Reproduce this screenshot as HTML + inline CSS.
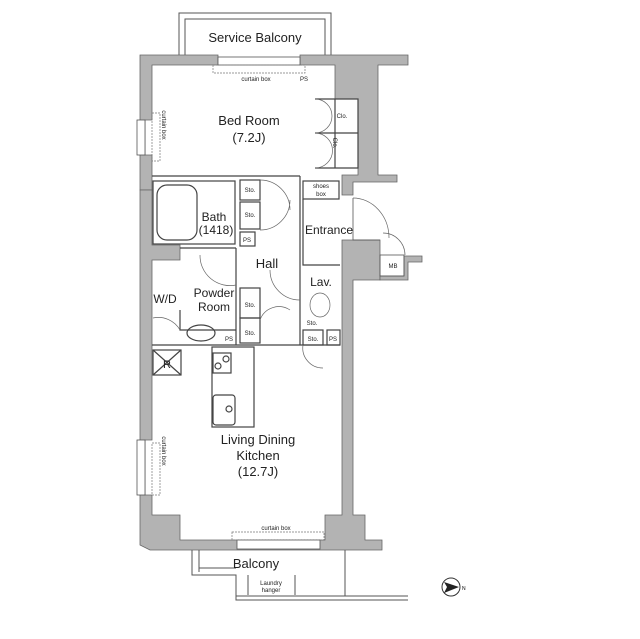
<!DOCTYPE html>
<html><head><meta charset="utf-8"><style>
html,body{margin:0;padding:0;background:#fff;}
svg{display:block;font-family:"Liberation Sans",sans-serif;}
</style></head><body>
<svg width="640" height="639" viewBox="0 0 640 639" xmlns="http://www.w3.org/2000/svg">
<g fill="none" stroke="#555" stroke-width="1">
<path d="M179 55 V13 H331 V55"/>
<path d="M185 55 V19 H325 V55"/>
</g>
<g fill="#b3b3b3" stroke="#666" stroke-width="0.8">
<path d="M140 55 H218 V65 H152 V120 H145 V155 H152 V190 H140 Z"/>
<path d="M300 55 H408 V65 H378 V175 H397 V182 H353 V195 H342 V175 H358 V99 H335 V65 H300 Z"/>
<path d="M140 190 H152 V245 H180 V260 H152 V440 H145 V495 H152 V515 H180 V540 H325 V515 H342 V240 H380 V280 H353 V515 H365 V540 H382 V550 H150 L140 545 Z"/>
<path d="M380 280 H408 V262 H422 V256 H404 V276 H380 Z"/>
</g>
<g fill="none" stroke="#555" stroke-width="0.8">
<rect x="380" y="255" width="24" height="21"/>
<path d="M353 198 V240 H380"/>
</g>
<g fill="#fff" stroke="#555" stroke-width="0.8">
<rect x="218" y="57" width="82" height="8"/>
<rect x="137" y="120" width="8" height="35"/>
<rect x="137" y="440" width="8" height="55"/>
<rect x="237" y="540" width="83" height="9"/>
</g>
<g fill="none" stroke="#777" stroke-width="0.7" stroke-dasharray="2 1">
<rect x="213" y="65" width="92" height="8"/>
<rect x="152" y="113" width="8" height="48"/>
<rect x="152" y="443" width="8" height="52"/>
<rect x="232" y="532" width="92" height="8"/>
</g>
<g fill="none" stroke="#444" stroke-width="1.2">
<path d="M152 176 H300"/>
<path d="M315 99 H358 V168 H315"/>
<path d="M335 99 V168 M315 133 H358"/>
<rect x="153" y="181" width="82" height="63"/>
<rect x="157" y="185" width="40" height="55" rx="10"/>
<rect x="240" y="180" width="20" height="20"/>
<rect x="240" y="202" width="20" height="27"/>
<rect x="240" y="232" width="15" height="14"/>
<rect x="303" y="181" width="36" height="18"/>
<path d="M300 176 V345 M303 199 V265 H340"/>
<path d="M236 248 V345 M180 248 H236"/>
<rect x="240" y="288" width="20" height="30"/>
<rect x="240" y="318" width="20" height="25"/>
<rect x="303" y="330" width="20" height="15"/>
<rect x="327" y="330" width="13" height="15"/>
<path d="M152 345 H340"/>
<rect x="212" y="347" width="42" height="80"/>
<rect x="153" y="350" width="28" height="25"/>
<path d="M153 350 L181 375 M181 350 L153 375"/>
<rect x="213" y="395" width="22" height="30" rx="3"/>
<rect x="213" y="353" width="18" height="20"/>
<circle cx="218" cy="366" r="3"/><circle cx="226" cy="359" r="3"/>
<circle cx="229" cy="409" r="3"/>
<ellipse cx="201" cy="333" rx="14" ry="8"/>
<path d="M180 310 V330 H236"/>
</g>
<g fill="none" stroke="#666" stroke-width="0.7">
<path d="M315 99 A17 17 0 0 1 315 133 M315 133 A17 17 0 0 1 315 168"/>
<path d="M260 180 A30 30 0 0 1 290 210 M260 230 A30 30 0 0 0 290 200"/>
<path d="M353 198 A36 40 0 0 1 389 238"/>
<path d="M383 233 A22 22 0 0 1 405 255"/>
<path d="M200 255 A30 30 0 0 0 236 285"/>
<path d="M270 270 A30 30 0 0 0 300 300"/>
<path d="M260 320 A20 20 0 0 1 290 310"/>
<path d="M303 345 A20 20 0 0 0 323 368"/>
<path d="M153 318 A25 25 0 0 1 180 330"/>
<ellipse cx="320" cy="305" rx="10" ry="12"/>
</g>
<g fill="none" stroke="#555" stroke-width="1">
<path d="M192 550 V575 H236 V600 H408"/>
<path d="M199 550 V572 M199 568 H236"/>
<path d="M345 550 V596 M236 596 H408"/>
<path d="M248 575 V595 M295 575 V595"/>
</g>
<circle cx="451" cy="587" r="9" fill="#fff" stroke="#333"/>
<path d="M444 582 L459 587 L444 593 L447 587 Z" fill="#222"/>
<text x="462" y="590" font-size="5">N</text>
<g fill="#222" text-anchor="middle">
<text x="255" y="42" font-size="13">Service Balcony</text>
<text x="249" y="125" font-size="13">Bed Room</text>
<text x="249" y="142" font-size="13">(7.2J)</text>
<text x="214" y="221" font-size="12">Bath</text>
<text x="216" y="234" font-size="12">(1418)</text>
<text x="329" y="234" font-size="12">Entrance</text>
<text x="267" y="268" font-size="13">Hall</text>
<text x="321" y="286" font-size="12">Lav.</text>
<text x="165" y="303" font-size="12">W/D</text>
<text x="214" y="297" font-size="12">Powder</text>
<text x="214" y="311" font-size="12">Room</text>
<text x="167" y="368" font-size="11">R</text>
<text x="258" y="444" font-size="13">Living Dining</text>
<text x="258" y="460" font-size="13">Kitchen</text>
<text x="258" y="476" font-size="13">(12.7J)</text>
<text x="256" y="568" font-size="13">Balcony</text>
<g font-size="6">
<text x="256" y="81">curtain box</text>
<text x="304" y="81">PS</text>
<text x="342" y="118">Clo.</text>
<text x="250" y="192">Sto.</text>
<text x="250" y="217">Sto.</text>
<text x="247" y="242">PS</text>
<text x="321" y="188">shoes</text>
<text x="321" y="196">box</text>
<text x="393" y="268">MB</text>
<text x="250" y="307">Sto.</text>
<text x="250" y="335">Sto.</text>
<text x="229" y="341">PS</text>
<text x="312" y="325">Sto.</text>
<text x="313" y="341">Sto.</text>
<text x="333" y="341">PS</text>
<text x="276" y="530">curtain box</text>
<text x="271" y="585">Laundry</text>
<text x="271" y="592">hanger</text>
</g>
<text x="0" y="0" font-size="6" transform="translate(162 125) rotate(90)">curtain box</text>
<text x="0" y="0" font-size="6" transform="translate(162 451) rotate(90)">curtain box</text>
<text x="0" y="0" font-size="6" transform="translate(333 143) rotate(90)">Clo.</text>
</g>
</svg>
</body></html>
